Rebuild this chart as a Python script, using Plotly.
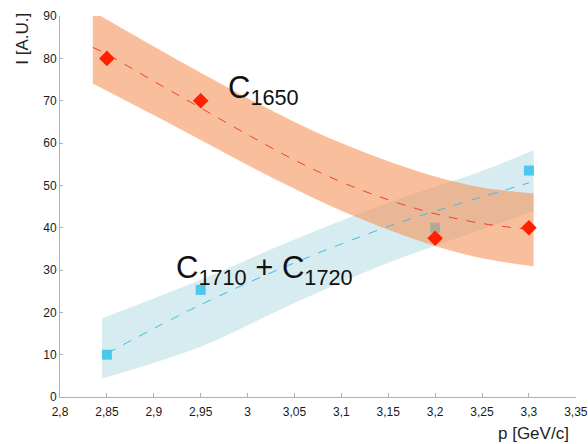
import plotly.graph_objects as go

# ---- data ----
p_points = [2.85, 2.95, 3.2, 3.3]
c1650_vals = [80, 70, 37.5, 40]
c1710_vals = [10, 25.3, 40, 53.5]

c1650_fit_x = [2.835, 2.85, 2.9, 2.95, 3.0, 3.05, 3.1, 3.15, 3.2, 3.25, 3.3]
c1650_fit_y = [82.6, 81.0, 74.6, 68.3, 62.0, 56.0, 50.8, 46.6, 43.3, 41.0, 39.6]

c1650_band_x = [2.835, 2.9, 2.95, 3.0, 3.05, 3.1, 3.15, 3.2, 3.25, 3.305]
c1650_band_hi = [91.1, 82.8, 76.6, 70.6, 65.0, 60.0, 55.7, 52.1, 49.5, 48.1]
c1650_band_lo = [74.1, 66.6, 60.7, 54.8, 49.2, 44.0, 39.5, 35.7, 32.8, 30.9]

c1710_fit_x = [2.85, 2.95, 3.05, 3.15, 3.2, 3.3]
c1710_fit_y = [10.3, 21.8, 31.7, 40.3, 43.9, 50.6]

c1710_band_x = [2.845, 2.95, 3.05, 3.15, 3.25, 3.305]
c1710_band_hi = [18.6, 27.7, 37.2, 45.9, 53.4, 58.3]
c1710_band_lo = [4.4, 11.9, 22.2, 31.7, 39.6, 43.9]

x_ticks = [2.8, 2.85, 2.9, 2.95, 3.0, 3.05, 3.1, 3.15, 3.2, 3.25, 3.3, 3.35]
x_tick_text = ["2,8", "2,85", "2,9", "2,95", "3", "3,05", "3,1", "3,15", "3,2", "3,25", "3,3", "3,35"]
y_ticks = [0, 10, 20, 30, 40, 50, 60, 70, 80, 90]

FONT = "Liberation Sans, Arial, sans-serif"

fig = go.Figure()

# blue band
fig.add_trace(go.Scatter(x=c1710_band_x, y=c1710_band_lo, mode="lines",
                         line=dict(width=0, shape="spline"), showlegend=False, hoverinfo="skip"))
fig.add_trace(go.Scatter(x=c1710_band_x, y=c1710_band_hi, mode="lines", fill="tonexty",
                         fillcolor="rgba(175,218,226,0.5)",
                         line=dict(width=0, shape="spline"), showlegend=False, hoverinfo="skip"))
# blue markers (under the orange band)
fig.add_trace(go.Scatter(x=p_points, y=c1710_vals, mode="markers",
                         marker=dict(symbol="square", size=10, color="#4cc8ec", line=dict(width=0)),
                         showlegend=False))
# orange band
fig.add_trace(go.Scatter(x=c1650_band_x, y=c1650_band_lo, mode="lines",
                         line=dict(width=0, shape="spline"), showlegend=False, hoverinfo="skip"))
fig.add_trace(go.Scatter(x=c1650_band_x, y=c1650_band_hi, mode="lines", fill="tonexty",
                         fillcolor="rgba(245,150,95,0.62)",
                         line=dict(width=0, shape="spline"), showlegend=False, hoverinfo="skip"))
# fit lines
fig.add_trace(go.Scatter(x=c1710_fit_x, y=c1710_fit_y, mode="lines",
                         line=dict(color="#3fbde4", width=1, dash="dash", shape="spline"),
                         showlegend=False))
fig.add_trace(go.Scatter(x=c1650_fit_x, y=c1650_fit_y, mode="lines",
                         line=dict(color="#f0402c", width=1, dash="dash", shape="spline"),
                         showlegend=False))
# red markers
fig.add_trace(go.Scatter(x=p_points, y=c1650_vals, mode="markers",
                         marker=dict(symbol="diamond", size=12, color="#ff2000", line=dict(width=0)),
                         showlegend=False))

fig.add_annotation(x=2.977, y=72.5, xref="x", yref="y", text="C<sub>1650</sub>",
                   showarrow=False, xanchor="left", yanchor="middle",
                   font=dict(family=FONT, size=31, color="#111"))
fig.add_annotation(x=2.922, y=30.0, xref="x", yref="y", text="C<sub>1710</sub> + C<sub>1720</sub>",
                   showarrow=False, xanchor="left", yanchor="middle",
                   font=dict(family=FONT, size=31, color="#111"))

fig.add_annotation(x=-0.072, y=0.94, xref="paper", yref="paper", text="I [A.U.]",
                   showarrow=False, textangle=-90, xanchor="center", yanchor="middle",
                   font=dict(family=FONT, size=17, color="#222"))
fig.add_annotation(x=0.99, y=0, xref="paper", yref="paper", text="p [GeV/c]",
                   showarrow=False, xanchor="right", yanchor="middle", yshift=-36,
                   font=dict(family=FONT, size=17, color="#222"))

fig.update_layout(
    width=588, height=444,
    margin=dict(l=60, r=12, t=16, b=47, autoexpand=False),
    paper_bgcolor="white", plot_bgcolor="white",
    font=dict(family=FONT, size=12, color="#222"),
    xaxis=dict(range=[2.8, 3.3502], tickvals=x_ticks, ticktext=x_tick_text, automargin=False,
               showgrid=False, zeroline=False, showline=True, linecolor="#b0b0b0", linewidth=1,
               ticks="inside", ticklen=4, tickcolor="#b0b0b0", ticklabelstandoff=4,
               tickfont=dict(family=FONT, size=12, color="#1a1a1a")),
    yaxis=dict(range=[0, 90.02], tickvals=y_ticks, automargin=False,
               showgrid=False, zeroline=False, showline=True, linecolor="#b0b0b0", linewidth=1,
               ticks="inside", ticklen=3, tickcolor="#b0b0b0",
               tickfont=dict(family=FONT, size=12, color="#1a1a1a")),
)

fig.write_html("out.html", config={"displayModeBar": False},
               post_script="document.body.style.margin='0';document.documentElement.style.overflow='hidden';")
